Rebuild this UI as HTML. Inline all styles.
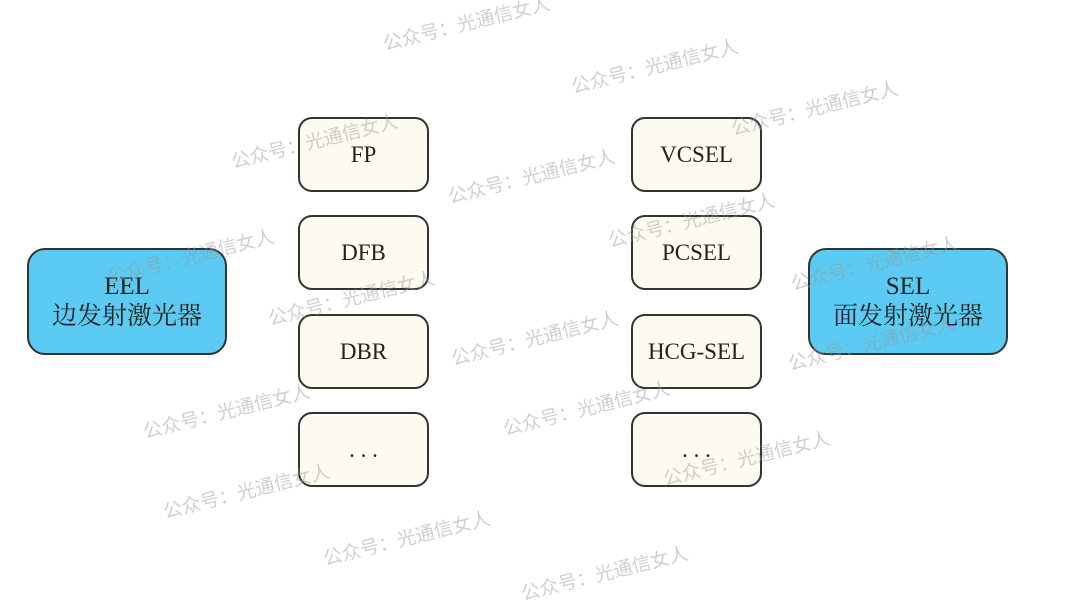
<!DOCTYPE html>
<html><head><meta charset="utf-8"><style>
body{margin:0;width:1080px;height:607px;background:#fff;position:relative;overflow:hidden;font-family:"Liberation Serif","Noto Serif CJK SC",serif;}
.b{position:absolute;box-sizing:border-box;border:2px solid #333;border-radius:14px;display:flex;align-items:center;justify-content:center;text-align:center;color:#222;}
.s{width:131px;height:75px;background:#fdfbef;font-size:23px;}
.L{width:200px;height:107px;background:#5ccbf3;font-size:25px;line-height:30px;border-radius:18px;}
.w{position:absolute;color:rgba(150,150,150,0.45);font-size:19px;transform:rotate(-14deg);transform-origin:left top;white-space:nowrap;font-family:"Liberation Sans","Noto Sans CJK SC",sans-serif;}
</style></head><body>
<div class="b L" style="left:27px;top:248px">EEL<br>边发射激光器</div>
<div class="b L" style="left:808px;top:248px">SEL<br>面发射激光器</div>
<div class="b s" style="left:298px;top:117px">FP</div>
<div class="b s" style="left:298px;top:215px">DFB</div>
<div class="b s" style="left:298px;top:314px">DBR</div>
<div class="b s" style="left:298px;top:412px">. . .</div>
<div class="b s" style="left:631px;top:117px">VCSEL</div>
<div class="b s" style="left:631px;top:215px">PCSEL</div>
<div class="b s" style="left:631px;top:314px">HCG-SEL</div>
<div class="b s" style="left:631px;top:412px">. . .</div>
<div class="w" style="left:380px;top:30px">公众号：光通信女人</div>
<div class="w" style="left:568px;top:73px">公众号：光通信女人</div>
<div class="w" style="left:728px;top:115px">公众号：光通信女人</div>
<div class="w" style="left:228px;top:148px">公众号：光通信女人</div>
<div class="w" style="left:445px;top:183px">公众号：光通信女人</div>
<div class="w" style="left:605px;top:227px">公众号：光通信女人</div>
<div class="w" style="left:104px;top:263px">公众号：光通信女人</div>
<div class="w" style="left:788px;top:270px">公众号：光通信女人</div>
<div class="w" style="left:265px;top:305px">公众号：光通信女人</div>
<div class="w" style="left:448px;top:345px">公众号：光通信女人</div>
<div class="w" style="left:785px;top:350px">公众号：光通信女人</div>
<div class="w" style="left:140px;top:418px">公众号：光通信女人</div>
<div class="w" style="left:500px;top:415px">公众号：光通信女人</div>
<div class="w" style="left:660px;top:465px">公众号：光通信女人</div>
<div class="w" style="left:160px;top:498px">公众号：光通信女人</div>
<div class="w" style="left:320px;top:545px">公众号：光通信女人</div>
<div class="w" style="left:518px;top:580px">公众号：光通信女人</div>
</body></html>
